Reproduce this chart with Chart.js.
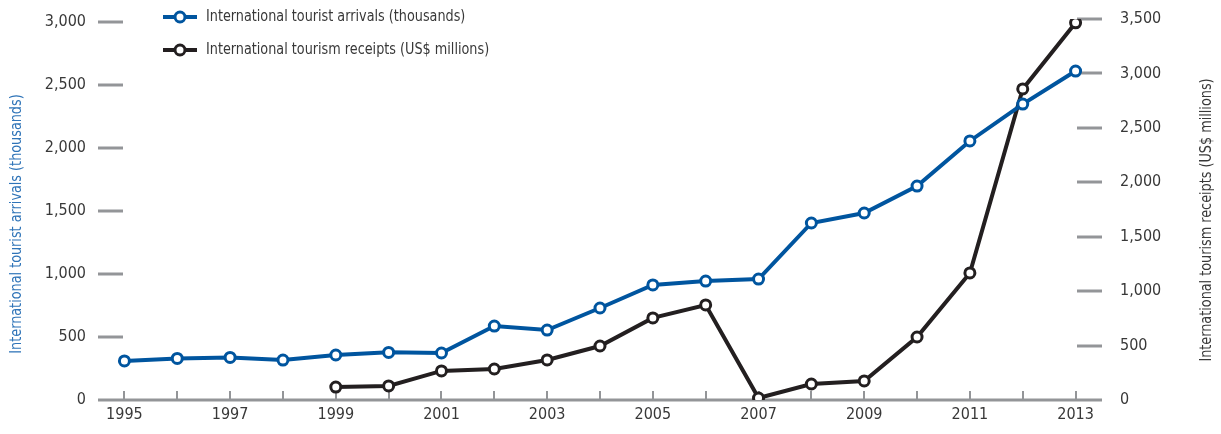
<!DOCTYPE html>
<html>
<head>
<meta charset="utf-8">
<script src="https://cdn.jsdelivr.net/npm/chart.js@4"></script>
<style>
  html, body { margin: 0; padding: 0; background: #fff; }
  #wrap { width: 1221px; height: 434px; position: relative; }
</style>
</head>
<body>
<div id="wrap"><canvas id="tourism-chart"></canvas></div>
<script>
const years = ['1995','1996','1997','1998','1999','2000','2001','2002','2003','2004','2005','2006','2007','2008','2009','2010','2011','2012','2013'];
const arrivals = [310, 330, 338, 317, 357, 378, 373, 587, 555, 730, 913, 944, 960, 1405, 1484, 1698, 2056, 2349, 2611];
const receipts = [null, null, null, null, 119, 129, 267, 285, 368, 496, 754, 873, 18, 147, 175, 579, 1167, 2858, 3465];
const arrivalTicks = [0, 500, 1000, 1500, 2000, 2500, 3000];
const receiptTicks = [0, 500, 1000, 1500, 2000, 2500, 3000, 3500];

const FONT = "'Liberation Sans Narrow', 'DejaVu Sans Condensed', 'Arial Narrow', sans-serif";
const GREY = '#939598';
const BLUE = '#00559f';
const DARK = '#231f20';
const TEXT = '#383838';
const SQUEEZE = 0.89;

// text in a narrower cut than the installed fonts give
function narrowText(ctx, text, x, y, angle, align) {
    ctx.save();
    ctx.translate(x, y);
    ctx.rotate(angle);
    ctx.scale(SQUEEZE, 1);
    ctx.textAlign = align;
    ctx.textBaseline = 'middle';
    ctx.fillText(text, 0, 0);
    ctx.restore();
}

// short grey marks instead of full grid lines, legend, axis titles
const axisMarks = {
    id: 'axisMarks',
    beforeDatasetsDraw(chart) {
        const ctx = chart.ctx;
        const area = chart.chartArea;
        const yl = chart.scales.y;
        const yr = chart.scales.y2;
        const x = chart.scales.x;
        ctx.save();
        ctx.strokeStyle = GREY;
        ctx.lineWidth = 3;
        yl.ticks.forEach(t => {
            if (t.value === 0) return;
            const py = Math.round(yl.getPixelForValue(t.value));
            ctx.beginPath(); ctx.moveTo(area.left, py); ctx.lineTo(area.left + 25, py); ctx.stroke();
        });
        yr.ticks.forEach(t => {
            if (t.value === 0) return;
            const py = Math.round(yr.getPixelForValue(t.value));
            ctx.beginPath(); ctx.moveTo(area.right - 25, py); ctx.lineTo(area.right, py); ctx.stroke();
        });
        const base = yl.getPixelForValue(0);
        ctx.beginPath(); ctx.moveTo(area.left, base); ctx.lineTo(area.right, base); ctx.stroke();
        ctx.lineWidth = 2;
        years.forEach((y, i) => {
            const px = Math.round(x.getPixelForValue(i));
            ctx.beginPath(); ctx.moveTo(px, base - 9); ctx.lineTo(px, base); ctx.stroke();
        });
        ctx.restore();
    },
    afterDraw(chart) {
        const ctx = chart.ctx;
        ctx.save();
        ctx.font = '16px ' + FONT;
        chart.data.datasets.forEach((ds, i) => {
            const cy = 17 + i * 33;
            ctx.strokeStyle = ds.borderColor;
            ctx.lineWidth = 4;
            ctx.beginPath(); ctx.moveTo(163, cy); ctx.lineTo(197, cy); ctx.stroke();
            ctx.fillStyle = '#fff';
            ctx.lineWidth = 3;
            ctx.beginPath(); ctx.arc(180, cy, 5, 0, Math.PI * 2); ctx.fill(); ctx.stroke();
            ctx.fillStyle = TEXT;
            narrowText(ctx, ds.label, 206, cy, 0, 'left');
        });
        ctx.fillStyle = '#2f74b8';
        narrowText(ctx, 'International tourist arrivals (thousands)', 17, 224, -Math.PI / 2, 'center');
        ctx.fillStyle = TEXT;
        narrowText(ctx, 'International tourism receipts (US$ millions)', 1207, 220, -Math.PI / 2, 'center');
        ctx.restore();
    }
};

function series(label, data, color, axis) {
    return {
        label: label,
        data: data,
        yAxisID: axis,
        borderColor: color,
        backgroundColor: '#fff',
        borderWidth: 4,
        pointRadius: 5,
        pointBorderWidth: 3,
        pointBackgroundColor: '#fff',
        pointBorderColor: color,
        tension: 0
    };
}

function fixedTicks(values) {
    return s => { s.ticks = values.map(v => ({ value: v })); };
}

function fitWidth(w) {
    return s => { s.width = w; s.paddingTop = 0; s.paddingBottom = 0; };
}

new Chart(document.getElementById('tourism-chart').getContext('2d'), {
    type: 'line',
    data: {
        labels: years,
        datasets: [
            series('International tourist arrivals (thousands)', arrivals, BLUE, 'y'),
            series('International tourism receipts (US$ millions)', receipts, DARK, 'y2')
        ]
    },
    options: {
        responsive: true,
        maintainAspectRatio: false,
        animation: false,
        layout: { padding: { top: 19, left: 0, right: 0, bottom: 0 } },
        plugins: { legend: { display: false }, tooltip: { enabled: false } },
        scales: {
            x: {
                offset: true,
                grid: { display: false, drawTicks: false },
                border: { display: false },
                ticks: {
                    autoSkip: false,
                    maxRotation: 0,
                    padding: 5,
                    color: TEXT,
                    font: { family: FONT, size: 16 },
                    callback: (v, i) => i % 2 === 0 ? years[i] : ''
                },
                afterFit: s => { s.height = 34; }
            },
            y: {
                position: 'left',
                min: 0,
                max: 3024,
                grid: { display: false, drawTicks: false },
                border: { display: false },
                ticks: {
                    padding: 12,
                    color: TEXT,
                    font: { family: FONT, size: 16 },
                    callback: v => v.toLocaleString('en-US')
                },
                afterBuildTicks: fixedTicks(arrivalTicks),
                afterFit: fitWidth(98)
            },
            y2: {
                position: 'right',
                min: 0,
                max: 3500,
                grid: { display: false, drawTicks: false },
                border: { display: false },
                ticks: {
                    padding: 18,
                    color: TEXT,
                    font: { family: FONT, size: 16 },
                    callback: v => v.toLocaleString('en-US')
                },
                afterBuildTicks: fixedTicks(receiptTicks),
                afterFit: fitWidth(119)
            }
        }
    },
    plugins: [axisMarks]
});
</script>
</body>
</html>
